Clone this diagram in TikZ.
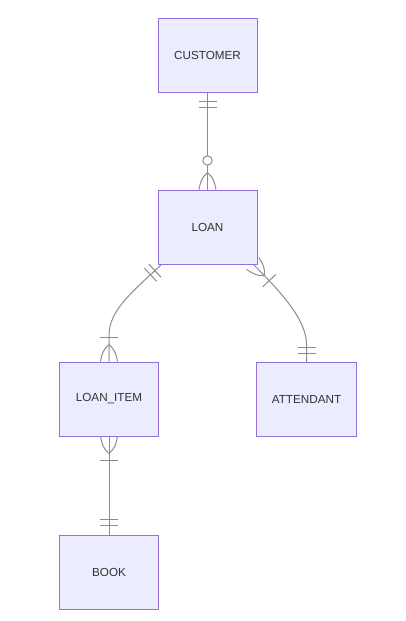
\documentclass[tikz,border=0pt]{standalone}
\usepackage{fontspec}
\setmainfont{Liberation Sans}
\usetikzlibrary{decorations.markings, backgrounds}
\definecolor{boxfill}{HTML}{ECECFF}
\definecolor{boxline}{HTML}{9370DB}
\definecolor{linkgray}{HTML}{8C8C8C}
\definecolor{labeltext}{HTML}{333333}

\begin{document}
\begin{tikzpicture}[x=1pt, y=-1pt,
    entity/.style={rectangle, draw=boxline, fill=boxfill, line width=1pt, minimum width=99pt, minimum height=74pt, align=center, text=labeltext, font=\fontsize{11.7}{14}\selectfont},
    link/.style={color=linkgray, line width=1pt},
    two bars start/.style={postaction={decorate, decoration={markings,
        mark=at position 9pt with {\draw (0,-9pt) -- (0,9pt);},
        mark=at position 15pt with {\draw (0,-9pt) -- (0,9pt);}}}},
    two bars end/.style={postaction={decorate, decoration={markings,
        mark=at position -15pt with {\draw (0,-9pt) -- (0,9pt);},
        mark=at position -9pt with {\draw (0,-9pt) -- (0,9pt);}}}},
    one or more start/.style={postaction={decorate, decoration={markings,
        mark=at position 17pt with {\draw (0,0) to[out=130,in=-10] (-17pt,8.5pt) (0,0) to[out=-130,in=10] (-17pt,-8.5pt);},
        mark=at position 24pt with {\draw (0,-9pt) -- (0,9pt);}}}},
    one or more end/.style={postaction={decorate, decoration={markings,
        mark=at position -24pt with {\draw (0,-9pt) -- (0,9pt);},
        mark=at position -17pt with {\draw (0,0) to[out=50,in=190] (17pt,8.5pt) (0,0) to[out=-50,in=170] (17pt,-8.5pt);}}}},
    zero or more end/.style={postaction={decorate, decoration={markings,
        mark=at position -29pt with {\draw[fill=white] (0,0) circle (4.7pt);},
        mark=at position -17pt with {\draw (0,0) to[out=50,in=190] (17pt,8.5pt) (0,0) to[out=-50,in=170] (17pt,-8.5pt);}}}}
]
    \useasboundingbox (0,0) rectangle (405,621);

    % Entities
    \node[entity] (customer) at (207.5,55) {CUSTOMER};
    \node[entity] (loan) at (207.5,227) {LOAN};
    \node[entity] (item) at (109,399) {LOAN\_ITEM};
    \node[entity, minimum width=100pt] (attendant) at (306.5,399.5) {ATTENDANT};
    \node[entity] (book) at (109,572) {BOOK};

    % Relationships
    \begin{pgfonlayer}{background}
    \draw[link, two bars start, zero or more end] (customer) -- (loan);
    \draw[link, two bars start, one or more end] ([xshift=4pt]loan.south west) .. controls +(-30,28) and +(0,-25) .. ([yshift=26pt]item.north) -- (item.north);
    \draw[link, one or more start, two bars end] ([xshift=-5pt,yshift=1pt]loan.south east) .. controls +(26,26) and +(0,-25) .. ([yshift=18pt]attendant.north) -- (attendant.north);
    \draw[link, one or more start, two bars end] (item) -- (book);
    \end{pgfonlayer}
\end{tikzpicture}
\end{document}
